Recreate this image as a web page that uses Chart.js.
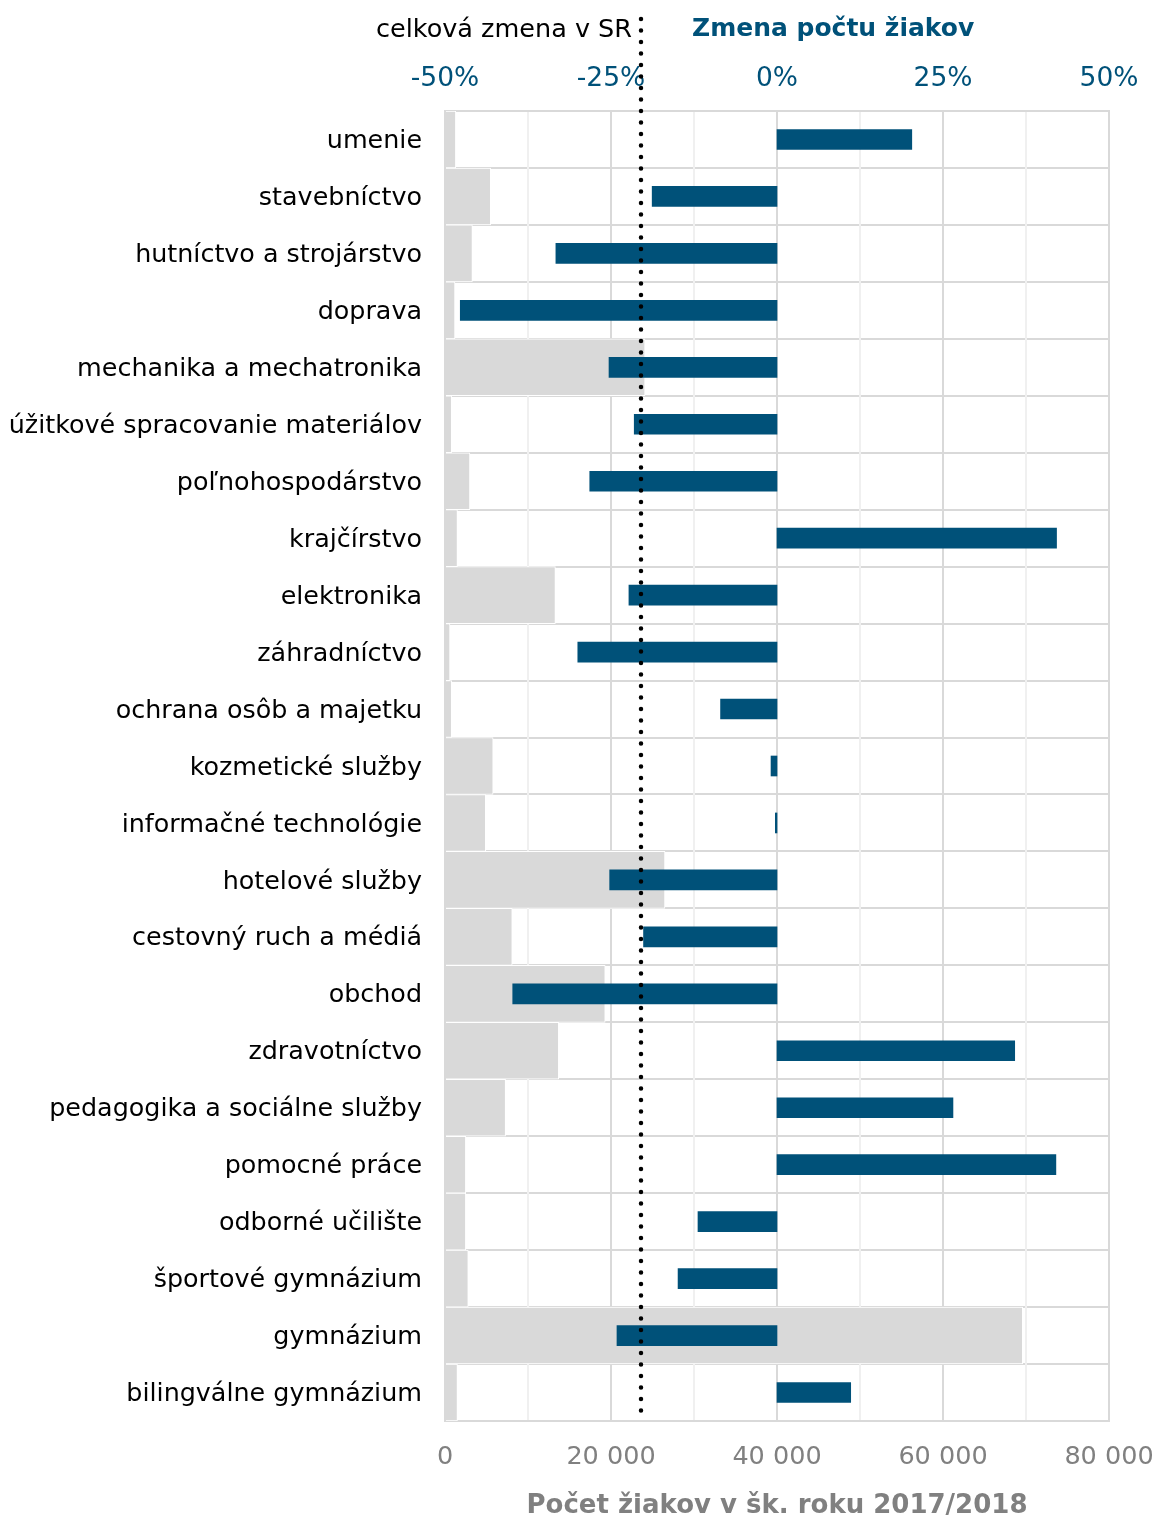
<!DOCTYPE html>
<html>
<head>
<meta charset="utf-8">
<script src="https://cdn.jsdelivr.net/npm/chart.js@4/dist/chart.umd.min.js"></script>
<style>
html,body{margin:0;padding:0;background:#fff;}
canvas{display:block;}
</style>
</head>
<body>
<canvas id="c" width="1157" height="1517" style="width:1157px;height:1517px;"></canvas>
<script>
const categories = ["umenie","stavebníctvo","hutníctvo a strojárstvo","doprava","mechanika a mechatronika","úžitkové spracovanie materiálov","poľnohospodárstvo","krajčírstvo","elektronika","záhradníctvo","ochrana osôb a majetku","kozmetické služby","informačné technológie","hotelové služby","cestovný ruch a médiá","obchod","zdravotníctvo","pedagogika a sociálne služby","pomocné práce","odborné učilište","športové gymnázium","gymnázium","bilingválne gymnázium"];
const studentCounts = [1300,5500,3300,1200,24100,800,3000,1500,13300,600,800,5800,4900,26500,8100,19300,13700,7300,2500,2500,2800,69600,1500];
const changePct = [20.3,-18.8,-33.3,-47.7,-25.3,-21.5,-28.2,42.1,-22.3,-30.0,-8.5,-0.9,-0.25,-25.2,-20.1,-39.8,35.8,26.5,42.0,-11.9,-14.9,-24.1,11.1];
const totalChangeSR = -20.5;
const bottomTicks = [0,20000,40000,60000,80000];
const topTicks = [-50,-25,0,25,50];

const FONT = "'DejaVu Sans', Verdana, sans-serif";
const BLUE = "#005179";

const overlay = {
  id: 'overlay',
  afterDatasetsDraw(chart) {
    const ctx = chart.ctx;
    const x2 = chart.scales.x2;
    const area = chart.chartArea;
    const px = Math.round(x2.getPixelForValue(totalChangeSR));
    ctx.save();
    ctx.strokeStyle = '#000';
    ctx.lineWidth = 4.5;
    ctx.lineCap = 'round';
    ctx.setLineDash([0, 11.5]);
    ctx.beginPath();
    ctx.moveTo(px, 19);
    ctx.lineTo(px, area.bottom - 2);
    ctx.stroke();
    ctx.setLineDash([]);
    ctx.font = "25.5px " + FONT;
    ctx.fillStyle = '#000';
    ctx.textAlign = 'right';
    ctx.textBaseline = 'middle';
    ctx.fillText('celková zmena v SR', px - 9, 30);
    ctx.font = "bold 25px " + FONT;
    ctx.fillStyle = BLUE;
    ctx.textAlign = 'left';
    ctx.fillText('Zmena počtu žiakov', px + 51, 29);
    ctx.restore();
  }
};

function noSidePad(s) { s.paddingLeft = 0; s.paddingRight = 0; }

new Chart(document.getElementById('c'), {
  type: 'bar',
  data: {
    labels: categories,
    datasets: [
      {
        label: 'Zmena počtu žiakov',
        data: changePct,
        xAxisID: 'x2',
        backgroundColor: BLUE,
        borderWidth: 0,
        barThickness: 20,
        grouped: false,
        order: 0
      },
      {
        label: 'Počet žiakov',
        data: studentCounts,
        xAxisID: 'x',
        backgroundColor: '#d9d9d9',
        borderColor: '#ffffff',
        borderWidth: 1,
        barPercentage: 1,
        categoryPercentage: 1,
        grouped: false,
        order: 1
      }
    ]
  },
  options: {
    indexAxis: 'y',
    responsive: false,
    animation: false,
    devicePixelRatio: 1,
    layout: { padding: { left: 0, right: 48, top: 0, bottom: 0 } },
    plugins: { legend: { display: false }, tooltip: { enabled: false } },
    scales: {
      y: {
        type: 'category',
        position: 'left',
        grid: { offset: true, color: '#d9d9d9', lineWidth: 2, drawTicks: false },
        border: { display: false },
        ticks: { color: '#000', font: { family: FONT, size: 25.4 }, padding: 23, labelOffset: 2, autoSkip: false },
        afterFit(s) { s.width = 445; s.paddingTop = 0; s.paddingBottom = 0; }
      },
      x: {
        type: 'linear',
        position: 'bottom',
        min: 0, max: 80000,
        afterBuildTicks(s) { s.ticks = [0,10000,20000,30000,40000,50000,60000,70000,80000].map(v => ({value: v})); },
        grid: {
          drawTicks: false,
          lineWidth: 2,
          color: (c) => (c.tick && c.tick.value % 20000 === 0) ? '#d9d9d9' : '#f0f0f0'
        },
        border: { display: true, color: '#d9d9d9', width: 2 },
        ticks: {
          color: '#808080',
          font: { family: FONT, size: 25.5 },
          padding: 21,
          maxRotation: 0,
          autoSkip: false,
          callback: (v) => bottomTicks.includes(v) ? (v === 0 ? '0' : (v/1000) + ' 000') : ''
        },
        title: {
          display: true,
          text: 'Počet žiakov v šk. roku 2017/2018',
          color: '#808080',
          font: { family: FONT, size: 26, weight: 'bold' },
          padding: { top: 16, bottom: -5 }
        },
        afterFit(s) { s.height = 96; noSidePad(s); }
      },
      x2: {
        type: 'linear',
        position: 'top',
        min: -50, max: 50,
        afterBuildTicks(s) { s.ticks = topTicks.map(v => ({value: v})); },
        grid: { display: false, drawTicks: false },
        border: { display: true, color: '#d9d9d9', width: 2 },
        ticks: {
          color: BLUE,
          font: { family: FONT, size: 26.5 },
          padding: 16,
          maxRotation: 0,
          autoSkip: false,
          callback: (v) => v + '%'
        },
        afterFit(s) { s.height = 111; noSidePad(s); }
      }
    }
  },
  plugins: [overlay]
});
</script>
</body>
</html>
